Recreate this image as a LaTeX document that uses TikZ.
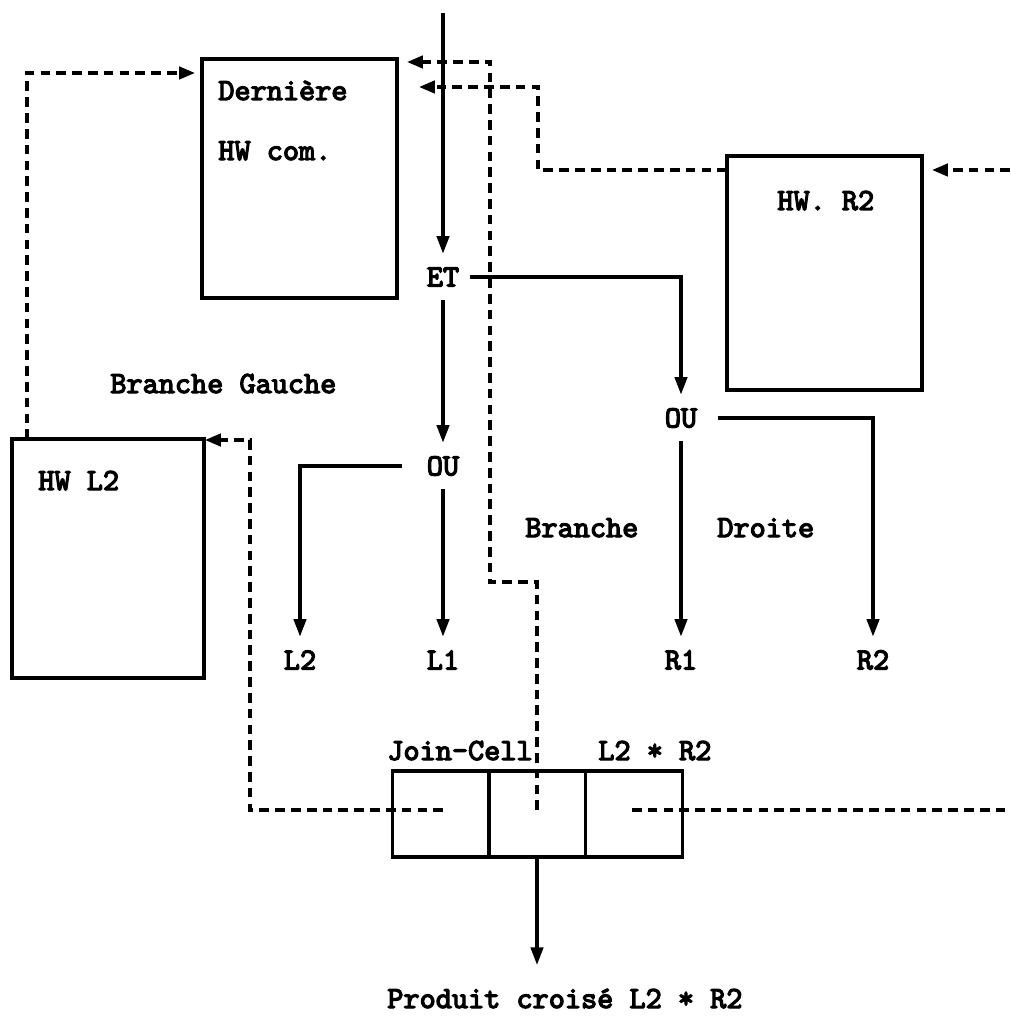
\documentclass[tikz,border=0pt]{standalone}
\usepackage{fontspec}
\usepackage{tikz}
\usetikzlibrary{arrows.meta}
\newfontfamily\diagfont{lmmono10-regular.otf}[FakeBold=4]

\tikzset{
  lbl/.style={font=\diagfont\fontsize{17.5}{20}\selectfont, inner sep=0pt},
  gate/.style={lbl, inner xsep=0.2cm, minimum height=0.92cm},
  hwbox/.style={draw, line width=1.9pt, minimum width=3.9cm, minimum height=4.78cm, inner sep=0pt},
  cell/.style={draw, line width=1.9pt, minimum width=1.94cm, minimum height=1.72cm, inner sep=0pt},
  flow/.style={line width=1.9pt, -{Triangle[length=10pt, width=7pt]}},
  link/.style={line width=1.9pt, dash pattern=on 5.5pt off 3.5pt},
  linktip/.style={link, -{Triangle[length=9pt, width=7pt]}},
}

\begin{document}
\begin{tikzpicture}[x=0.02cm, y=-0.02cm]
  \useasboundingbox (0,0) rectangle (1010,1016);

  % Boxes
  \node[hwbox] (dern) at (299.5,178.5) {};
  \node[lbl, anchor=base west] (dernA) at (218,100) {Dernière};
  \node[lbl, anchor=base west] (dernB) at (218,160) {HW com.};
  \node[hwbox, minimum height=4.68cm] (hwr) at (824.5,273) {};
  \node[lbl, anchor=base west] (hwrA) at (777,210) {HW. R2};
  \node[hwbox, minimum width=3.84cm] (hwl) at (108,558.5) {};
  \node[lbl, anchor=base west] (hwlA) at (38,490) {HW L2};

  % Branch labels
  \node[lbl, anchor=base west] (brg) at (110,393) {Branche Gauche};
  \node[lbl, anchor=base west] (brd1) at (525,537) {Branche};
  \node[lbl, anchor=base west] (brd2) at (717,537) {Droite};

  % Gates and leaves
  \coordinate (in) at (443,13);
  \node[gate] (ET) at (443,277) {ET};
  \node[gate] (OUl) at (443,466) {OU};
  \node[gate] (OUr) at (681,418) {OU};
  \node[gate] (L2) at (300,660) {L2};
  \node[gate] (L1) at (443,660) {L1};
  \node[gate] (R1) at (681,660) {R1};
  \node[gate] (R2) at (873,660) {R2};

  \draw[flow] (in) -- (ET.north);
  \draw[flow] (ET.east) -| (OUr.north);
  \draw[flow] (ET.south) -- (OUl.north);
  \draw[flow] ([xshift=-0.3cm]OUl.west) -| (L2.north);
  \draw[flow] (OUl.south) -- (L1.north);
  \draw[flow] ([xshift=0.2cm]OUr.east) -| (R2.north);
  \draw[flow] (OUr.south) -- (R1.north);

  % Join-Cell
  \node[cell] (jc1) at (441,814) {};
  \node[cell] (jc2) at (537,814) {};
  \node[cell] (jc3) at (634,814) {};
  \node[lbl, anchor=base west] (jcA) at (387,760) {Join-Cell};
  \node[lbl, anchor=base west] (jcB) at (598,760) {L2 * R2};
  \node[lbl, anchor=base west] (prod) at (387,1008) {Produit croisé L2 * R2};
  \coordinate (outtip) at (537,965);
  \draw[flow] (jc2.south) -- (outtip);

  % Dashed links
  \coordinate (jcm) at (537,810);
  \coordinate (jcl) at (443,810);
  \coordinate (jcr) at (632,810);
  \coordinate (edgeL) at (1010,810);
  \coordinate (edgeR) at (1010,170);
  \coordinate (d1) at (407,62);
  \coordinate (d2) at (419,87);
  \coordinate (d3) at (195,73);
  \coordinate (r2in) at (932,170);
  \coordinate (r2out) at (727,170);
  \coordinate (l2in) at (205,440);
  \coordinate (l2out) at (27,439);

  \draw[linktip] (jcm) -- (537,582) -- (490,582) -- (490,62) -- (d1);
  \draw[linktip] (r2out) -- (538,170) -- (538,87) -- (d2);
  \draw[linktip] (edgeR) -- (r2in);
  \draw[link] (jcr) -- (edgeL);
  \draw[linktip] (jcl) -- (250,810) -- (250,440) -- (l2in);
  \draw[linktip] (l2out) -- (27,73) -- (d3);
\end{tikzpicture}
\end{document}
